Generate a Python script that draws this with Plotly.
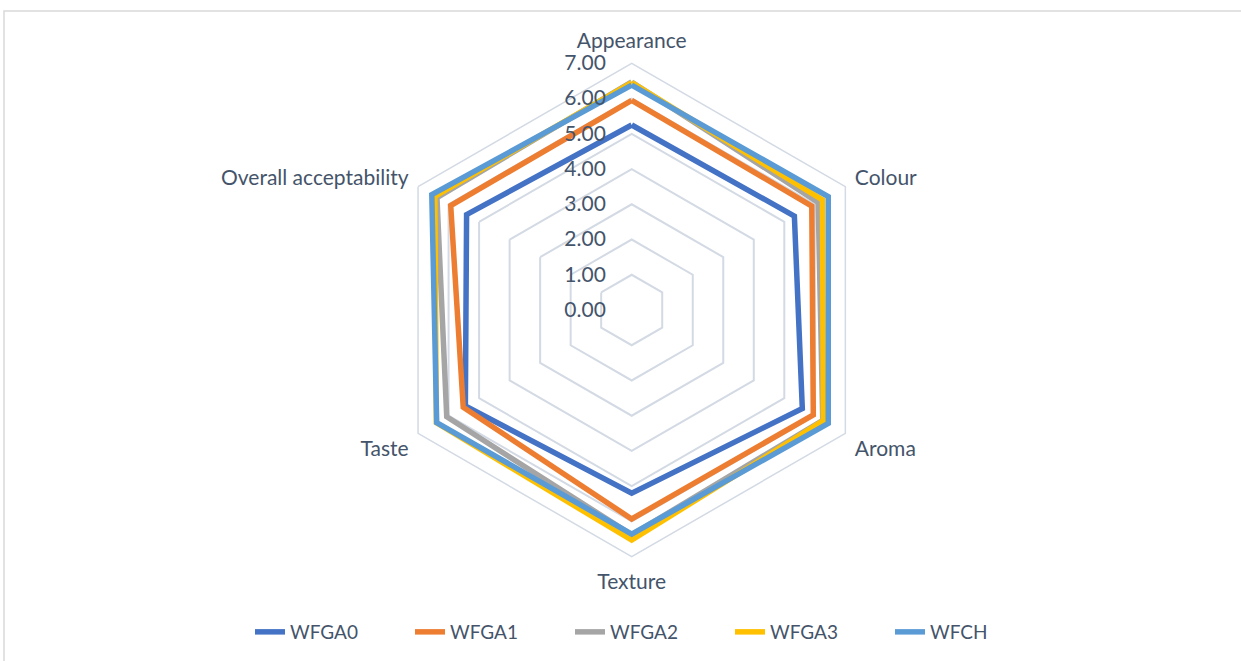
import plotly.graph_objects as go

categories = ["Appearance", "Colour", "Aroma", "Texture", "Taste", "Overall acceptability"]
series_names = ["WFGA0", "WFGA1", "WFGA2", "WFGA3", "WFCH"]
wfga0 = [5.25, 5.33, 5.59, 5.20, 5.45, 5.41]
wfga1 = [5.95, 5.90, 5.95, 5.93, 5.52, 5.93]
wfga2 = [6.47, 6.11, 6.26, 6.38, 6.06, 6.38]
wfga3 = [6.45, 6.25, 6.28, 6.53, 6.40, 6.45]
wfch = [6.38, 6.44, 6.44, 6.36, 6.39, 6.55]
colors = ["#4472C4", "#ED7D31", "#A5A5A5", "#FFC000", "#5B9BD5"]
tick_vals = [0, 1, 2, 3, 4, 5, 6, 7]
tick_text = ["0.00", "1.00", "2.00", "3.00", "4.00", "5.00", "6.00", "7.00"]

W, H = 1241, 661
cx, cy, R = 631.7, 310.0, 246.7
text_color = "#44546A"
grid_color = "#D3DAE4"
font_family = "Lato, 'Open Sans', sans-serif"

fig = go.Figure()
for name, vals, col in zip(series_names, [wfga0, wfga1, wfga2, wfga3, wfch], colors):
    fig.add_trace(go.Scatterpolar(
        r=vals + vals[:1],
        theta=categories + categories[:1],
        mode="lines",
        name=name,
        line=dict(color=col, width=5.5),
    ))

fig.update_layout(
    width=W, height=H,
    margin=dict(l=0, r=0, t=0, b=0),
    paper_bgcolor="white",
    plot_bgcolor="white",
    font=dict(family=font_family, color=text_color, size=22),
    polar=dict(
        domain=dict(x=[(cx - R) / W, (cx + R) / W], y=[1 - (cy + R) / H, 1 - (cy - R) / H]),
        gridshape="linear",
        bgcolor="white",
        radialaxis=dict(
            range=[0, 7],
            tickvals=tick_vals,
            ticktext=tick_text,
            angle=90,
            tickangle=90,
            side="counterclockwise",
            showline=False,
            gridcolor=grid_color,
            gridwidth=1.5,
            ticks="outside",
            ticklen=18,
            tickcolor="rgba(0,0,0,0)",
            tickfont=dict(size=21, color=text_color),
        ),
        angularaxis=dict(
            rotation=90,
            direction="clockwise",
            showgrid=False,
            showline=True,
            linecolor=grid_color,
            linewidth=1.5,
            ticks="outside",
            ticklen=6,
            tickcolor="rgba(0,0,0,0)",
            tickfont=dict(size=21, color=text_color),
        ),
    ),
    legend=dict(
        orientation="h",
        x=250 / W, xanchor="left",
        y=1 - 632 / H, yanchor="middle",
        font=dict(size=19, color=text_color),
        bgcolor="rgba(0,0,0,0)",
        entrywidth=115,
        entrywidthmode="pixels",
    ),
    shapes=[dict(
        type="rect", xref="paper", yref="paper",
        x0=4 / W, x1=1.02, y0=-0.02, y1=1 - 11 / H,
        line=dict(color="#D9D9D9", width=1.5),
        fillcolor="rgba(0,0,0,0)",
        layer="below",
    )],
)

fig.write_html("out.html", config={"displayModeBar": False},
               post_script="document.body.style.margin='0';")
